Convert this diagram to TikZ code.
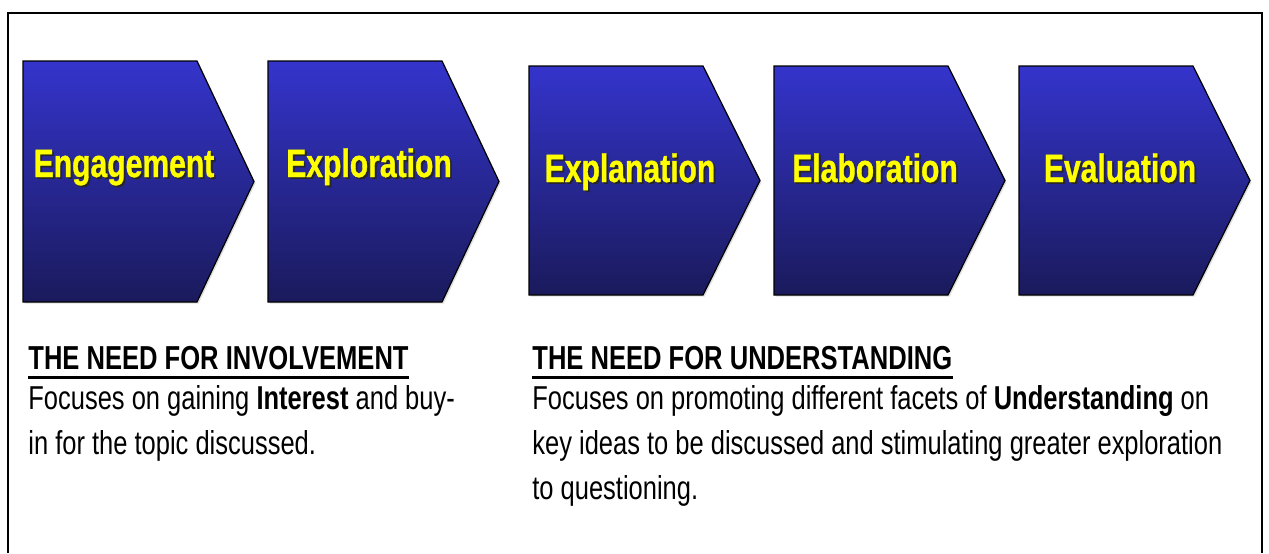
\documentclass[tikz,border=0pt]{standalone}
\usepackage{fontspec}
\setmainfont[FakeStretch=0.77]{Liberation Sans}
\newfontfamily\stagefont[FakeStretch=0.76, FakeBold=0.9]{Liberation Sans}
\usetikzlibrary{positioning, shadows}

\definecolor{chevtop}{RGB}{52,52,204}
\definecolor{chevbottom}{RGB}{26,26,92}
\definecolor{labelyellow}{RGB}{255,255,0}

% yellow word with a dark offset copy behind it
\newcommand{\shadowed}[1]{\rlap{\hspace{0.9pt}\raisebox{-0.9pt}{\color{black!85}#1}}#1}

\begin{document}
\begin{tikzpicture}[x=0.5pt, y=-0.5pt,
    chevron/.style={draw=black, line width=0.6pt, top color=chevtop, bottom color=chevbottom,
                    drop shadow={opacity=0.25, shadow xshift=0.8pt, shadow yshift=-0.8pt}},
    steplabel/.style={anchor=base, inner sep=0pt, text=labelyellow,
                      font=\stagefont\fontsize{19.8}{23}\selectfont\bfseries},
    needhead/.style={anchor=base west, inner sep=0pt, font=\fontsize{16.6}{20}\selectfont\bfseries},
    needtext/.style={anchor=north west, inner sep=0pt, align=left,
                     font=\fontsize{16.55}{22.5}\selectfont},
    underline/.style={line width=1.5pt},
    frame/.style={line width=1.3pt}]

    \useasboundingbox (0,0) rectangle (1269,553);
    \draw[frame] (8,553) -- (8,13) -- (1262,13) -- (1262,553);

    % the five stages
    \foreach \px/\py/\ph/\name/\word in {23/61/241/engage/Engagement, 268/61/241/explore/Exploration,
            529/66/229/explain/Explanation, 774/66/229/elaborate/Elaboration, 1019/66/229/evaluate/Evaluation}{
        \path[chevron] (\px,\py) -- ++(174,0) -- ++(57,\ph/2) -- ++(-57,\ph/2) -- ++(-174,0) -- cycle;
        \node[steplabel] (\name) at (\px+101,\py+116) {\shadowed{\word}};
    }

    \node[needhead] (involve) at (28,369) {THE NEED FOR INVOLVEMENT};
    \node[needhead] (understand) at (532,369) {THE NEED FOR UNDERSTANDING};
    \draw[underline] ([yshift=-4pt]involve.base west) -- ([yshift=-4pt]involve.base east);
    \draw[underline] ([yshift=-4pt]understand.base west) -- ([yshift=-4pt]understand.base east);

    \node[needtext] (involvetext) at (28,385) {Focuses on gaining \textbf{Interest} and buy-\\in for the topic discussed.};
    \node[needtext] (understandtext) at (532,385) {Focuses on promoting different facets of \textbf{Understanding} on\\
        key ideas to be discussed and stimulating greater exploration\\to questioning.};
\end{tikzpicture}
\end{document}
